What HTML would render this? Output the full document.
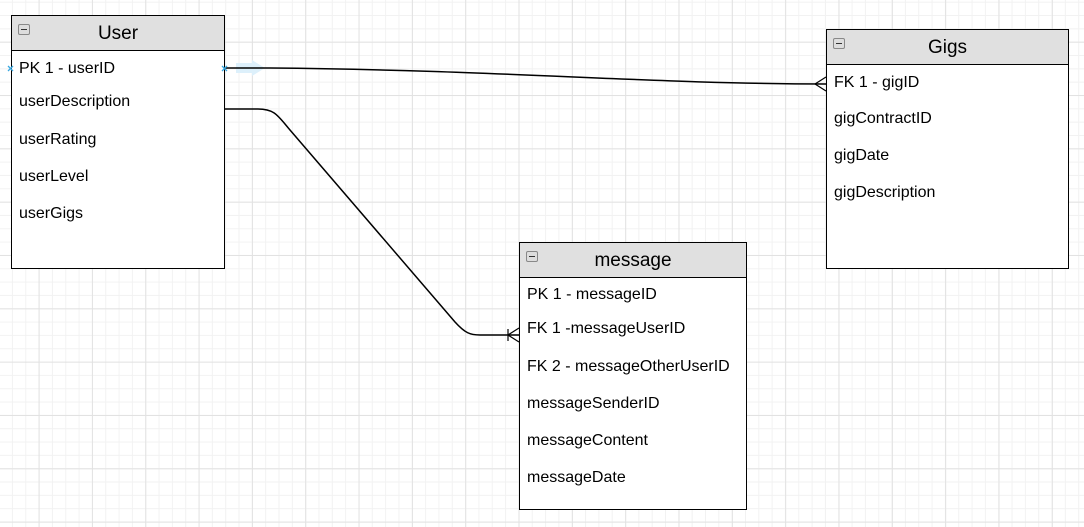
<!DOCTYPE html>
<html><head><style>
body{margin:0;width:1084px;height:527px;overflow:hidden;background:#fff;font-family:"Liberation Sans",sans-serif;}
.grid{position:absolute;left:0;top:0;width:1084px;height:527px;
background-image:
linear-gradient(to right,#e2e2e2 1px,transparent 1px),
linear-gradient(to bottom,#e2e2e2 1px,transparent 1px),
linear-gradient(to right,#f2f2f2 1px,transparent 1px),
linear-gradient(to bottom,#f2f2f2 1px,transparent 1px);
background-size:53.33px 53.33px,53.33px 53.33px,13.33px 13.33px,13.33px 13.33px;
background-position:38.6px 0,0 41.7px,38.6px 0,0 41.7px;}
.t{position:absolute;background:#fff;border:1.5px solid #000;box-sizing:border-box;}
.h{height:34px;background:#e0e0e0;border-bottom:1.5px solid #000;text-align:center;font-size:19px;line-height:36px;position:relative;}
.h i{position:absolute;left:6px;top:8px;width:10px;height:9px;border:1px solid #888;background:#ddd;border-radius:2px}
.h i:after{content:"";position:absolute;left:2px;top:4px;width:6px;height:1px;background:#333}
.r{position:absolute;left:7px;font-size:16px;}
svg{position:absolute;left:0;top:0}
</style></head><body>
<div class="grid"></div>
<div class="t" style="left:11px;top:15px;width:214px;height:254px">
<div class="h"><i></i>User</div>
<div class="r" style="top:44px">PK 1 - userID</div>
<div class="r" style="top:77px">userDescription</div>
<div class="r" style="top:115px">userRating</div>
<div class="r" style="top:152px">userLevel</div>
<div class="r" style="top:189px">userGigs</div>
</div>
<div class="t" style="left:826px;top:29px;width:243px;height:240px">
<div class="h"><i></i>Gigs</div>
<div class="r" style="top:44px">FK 1 - gigID</div>
<div class="r" style="top:80px">gigContractID</div>
<div class="r" style="top:117px">gigDate</div>
<div class="r" style="top:154px">gigDescription</div>
</div>
<div class="t" style="left:519px;top:242px;width:228px;height:268px">
<div class="h"><i></i>message</div>
<div class="r" style="top:43px">PK 1 - messageID</div>
<div class="r" style="top:77px">FK 1 -messageUserID</div>
<div class="r" style="top:115px">FK 2 - messageOtherUserID</div>
<div class="r" style="top:152px">messageSenderID</div>
<div class="r" style="top:189px">messageContent</div>
<div class="r" style="top:226px">messageDate</div>
</div>
<svg width="1084" height="527">
<path d="M236 63 L252 63 L252 60 L265 68 L252 76 L252 73 L236 73Z" fill="#ddf0fb"/>
<path d="M225 68 L270 68 C500 70 650 84 826 84" fill="none" stroke="#000" stroke-width="1.5"/>
<path d="M826 77 L815 84 L826 91" fill="none" stroke="#000" stroke-width="1.2"/>
<path d="M225 109 L258 109 C275 109 278 116 290 130 L455 322 C465 333 470 335 480 335 L519 335" fill="none" stroke="#000" stroke-width="1.5"/>
<path d="M519 328 L508 335 L519 342 M508 329 L508 341" fill="none" stroke="#000" stroke-width="1.2"/>
<g stroke="#3aa8e0" stroke-width="1.3"><path d="M8 66l5 5M13 66l-5 5M222 66l5 5M227 66l-5 5"/></g>
</svg>
</body></html>
